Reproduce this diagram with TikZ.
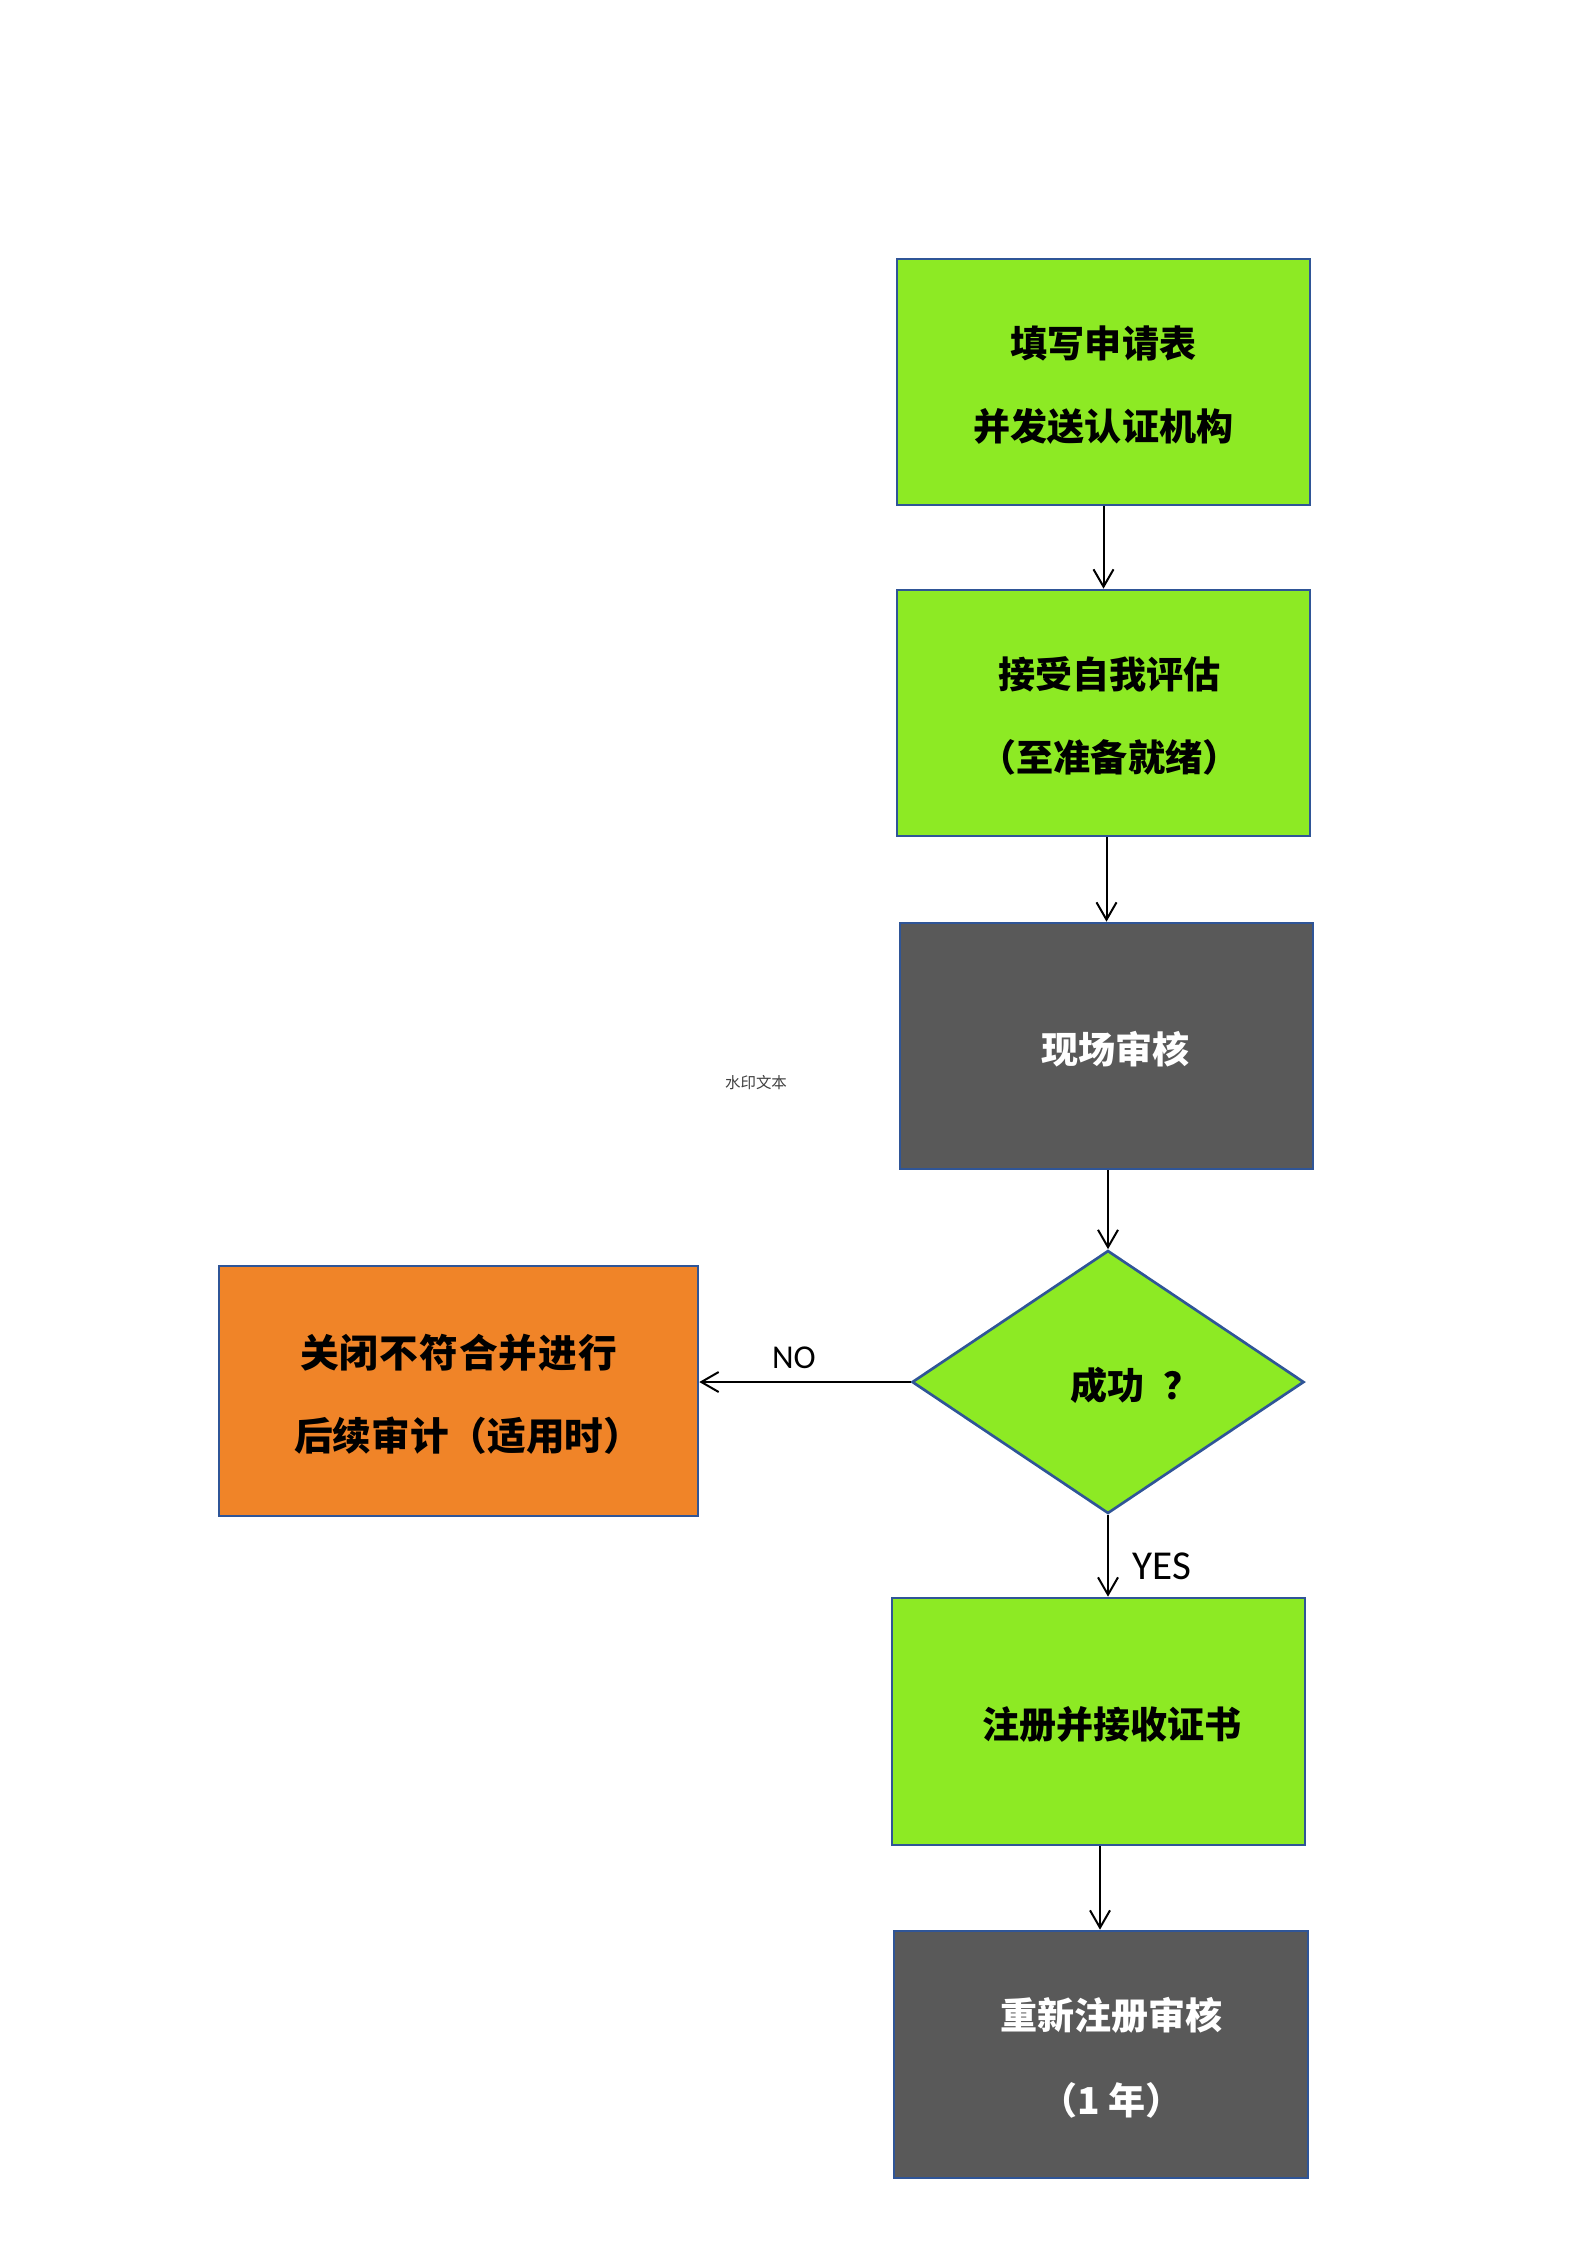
\documentclass[tikz,border=0pt]{standalone}
\usepackage{fontspec}
\usetikzlibrary{shapes.geometric,arrows.meta}
\newfontfamily\cjk{Noto Sans CJK SC}
\newfontfamily\lat{Carlito}
\definecolor{boxgreen}{HTML}{8DEA24}
\definecolor{boxgray}{HTML}{595959}
\definecolor{boxorange}{HTML}{F08428}
\definecolor{boxline}{HTML}{2F5597}
\definecolor{wmark}{HTML}{404040}
\newcommand{\ls}{\kern0.4pt}
\tikzset{
  box/.style={rectangle,draw=boxline,line width=1pt,inner sep=0pt,
    minimum width=154.875pt,minimum height=92.25pt},
  txt/.style={inner sep=0pt,align=center,yshift=-1.2pt,
    font=\cjk\bfseries\fontsize{13.9pt}{31pt}\selectfont},
  greenbox/.style={box,fill=boxgreen},
  graybox/.style={box,fill=boxgray},
  orangebox/.style={box,fill=boxorange},
  decision/.style={diamond,draw=boxline,line width=1pt,fill=boxgreen,inner sep=0pt,
    minimum width=147pt,minimum height=98.625pt},
  conn/.style={draw=black,line width=0.75pt,-{Straight Barb[length=6.5pt,width=7.5pt]}},
  lbl/.style={font=\lat,text=black,inner sep=0pt}
}
\begin{document}
\begin{tikzpicture}[x=0.375pt,y=-0.375pt]
\useasboundingbox (0,0) rectangle (1587,2245);
\node[greenbox,label={[txt,text=black]center:{填写申请表\\并发送认证机构}}] (b1) at (1103.5,382) {};
\node[greenbox,label={[txt,text=black]center:{\hspace*{4.5pt}接受自我评估\\\hspace*{4.5pt}（至准备就绪）}}] (b2) at (1103.5,713) {};
\node[graybox,label={[txt,text=white]center:{\hspace*{7pt}现场审核}}] (b3) at (1106.5,1046) {};
\node[decision,label={[txt,text=black]center:{\hspace*{20.75pt}成功\hspace{7.2pt}？}}] (d) at (1108,1382) {};
\node[orangebox,minimum width=179.625pt,minimum height=93.75pt,
  label={[txt,text=black,font=\cjk\bfseries\fontsize{14.5pt}{31pt}\selectfont]center:{关\ls 闭\ls 不\ls 符\ls 合\ls 并\ls 进\ls 行\\后续审计（适用时）\kern-0.5em}}] (o) at (458.5,1391) {};
\node[greenbox,minimum height=92.625pt,label={[txt,text=black]center:{\hspace*{10pt}注册并接收证书}}] (b5) at (1098.5,1721.5) {};
\node[graybox,minimum width=155.25pt,minimum height=92.625pt,
  label={[txt,text=white,font=\cjk\bfseries\fontsize{13.9pt}{32pt}\selectfont]center:{\hspace*{8pt}重新注册审核\\\hspace*{8pt}（1 年）}}] (b6) at (1101,2054.5) {};
\draw[conn] (b1.south) -- (b1.south |- b2.north);
\draw[conn] (b2.south -| b3.north) -- (b3.north);
\draw[conn] (b3.south -| d.north) -- (d.north);
\draw[conn] (d.west) -- (d.west -| o.east);
\draw[conn] (d.south) -- (d.south |- b5.north);
\draw[conn] (b5.south -| b6.north) ++(-1,0) coordinate (s5) -- (s5 |- b6.north);
\node[lbl,font=\lat\fontsize{12.5pt}{15pt}\selectfont] (no) at (794,1358) {NO};
\node[lbl,font=\lat\fontsize{15.4pt}{18pt}\selectfont] (yes) at (1162,1566) {YES};
\node[inner sep=0pt,text=wmark,font=\cjk\fontsize{5.8pt}{7pt}\selectfont] (wm) at (756,1083) {水印文本};
\end{tikzpicture}
\end{document}
